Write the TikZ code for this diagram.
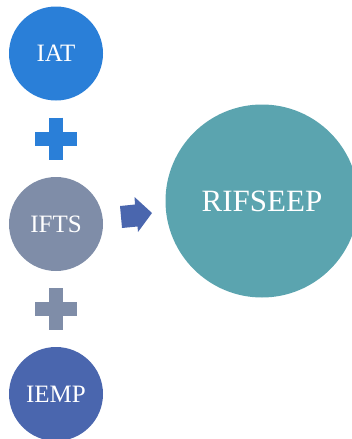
\documentclass[tikz,border=0pt]{standalone}
\usepackage{fontspec}
\setmainfont{Liberation Serif}
\definecolor{iatblue}{HTML}{2A7FD8}
\definecolor{iftsgrey}{HTML}{7F8DA8}
\definecolor{iempblue}{HTML}{4A66AE}
\definecolor{rifteal}{HTML}{5BA4AF}
\tikzset{
    bubble/.style={circle, minimum size=94pt, inner sep=0pt, text=white, font=\fontsize{25}{25}\selectfont},
    plusarm/.style={line width=14pt}
}
\begin{document}
\begin{tikzpicture}[x=1pt,y=-1pt]
    \useasboundingbox (0,0) rectangle (352,439);
    \clip (0,0) rectangle (352,439);
    \node[bubble, fill=iatblue] (IAT) at (56,53.5) {IAT};
    \node[bubble, fill=iftsgrey] (IFTS) at (56,224) {IFTS};
    \node[bubble, fill=iempblue] (IEMP) at (56,394) {IEMP};
    \node[bubble, fill=rifteal, minimum size=193pt, font=\fontsize{31}{31}\selectfont] (RIF) at (262,201) {RIFSEEP};
    % plus signs
    \draw[plusarm, iatblue] (35,138.5) -- (77,138.5);
    \draw[plusarm, iatblue] (56,117.5) -- (56,159.5);
    \draw[plusarm, iftsgrey] (35,309) -- (77,309);
    \draw[plusarm, iftsgrey] (56,288) -- (56,330);
    % block arrow
    \fill[iempblue] (120,206) -- (135,204.5) -- (134.5,197) -- (152,213)
        -- (138,232) -- (137.5,226.5) -- (122,228) -- cycle;
\end{tikzpicture}
\end{document}
